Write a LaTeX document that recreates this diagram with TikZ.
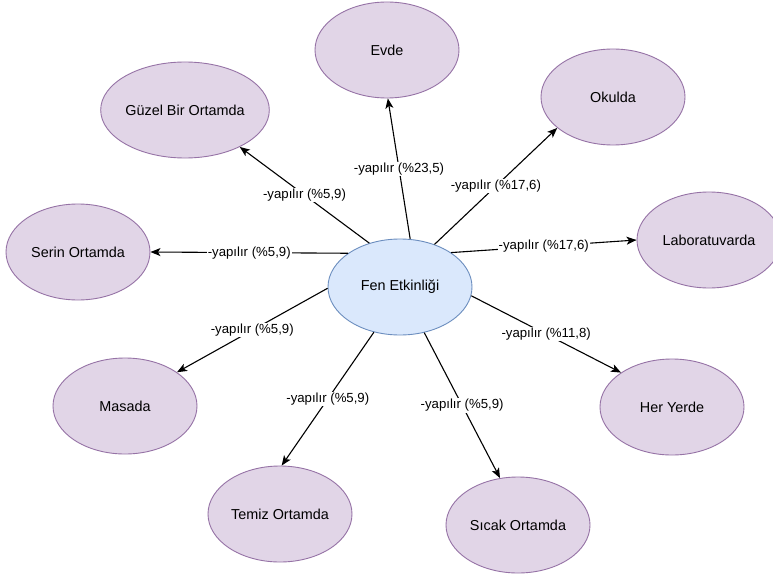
\documentclass[tikz,border=0pt]{standalone}
\usepackage{fontspec}
\setmainfont{Liberation Sans}
\usetikzlibrary{arrows.meta,shapes.geometric}
\definecolor{purfill}{HTML}{E1D5E7}
\definecolor{purdraw}{HTML}{9673A6}
\definecolor{bluefill}{HTML}{DAE8FC}
\definecolor{bluedraw}{HTML}{6C8EBF}
\tikzset{
  place/.style={ellipse, draw=purdraw, fill=purfill, line width=0.9pt,
    minimum width=144pt, minimum height=96pt, inner sep=0pt,
    font=\fontsize{14.4}{16}\selectfont},
  hub/.style={place, draw=bluedraw, fill=bluefill},
  conn/.style={line width=1.1pt, -{Stealth[length=10pt,width=8pt,inset=2.5pt]}},
  lbl/.style={fill=white, inner sep=1pt, font=\fontsize{13.2}{15}\selectfont, pos=0.5}
}
\begin{document}
\begin{tikzpicture}[x=1pt,y=-1pt]
\useasboundingbox (0,0) rectangle (773,575);
\fill[white] (0,0) rectangle (773,575);
\node[hub]   (fen)    at (400,287) {Fen Etkinliği};
\node[place] (evde)   at (387,50)  {Evde};
\node[place] (okulda) at (613,97)  {Okulda};
\node[place] (guzel)  at (185,110) {Güzel Bir Ortamda};
\node[place] (serin)  at (78,252)  {Serin Ortamda};
\node[place] (lab)    at (709,240) {Laboratuvarda};
\node[place] (masada) at (125,406) {Masada};
\node[place] (her)    at (672,407) {Her Yerde};
\node[place] (temiz)  at (280,514) {Temiz Ortamda};
\node[place] (sicak)  at (518,525) {Sıcak Ortamda};
\draw[conn] (fen.78)   -- node[lbl] {-yapılır (\%23,5)} (evde.-89);
\draw[conn] (fen.51)   -- node[lbl] {-yapılır (\%17,6)} (okulda.209);
\draw[conn] (fen.34)   -- node[lbl] {-yapılır (\%17,6)} (lab.180);
\draw[conn] (fen.-7)   -- node[lbl] {-yapılır (\%11,8)} (her.146);
\draw[conn] (fen.-62)  -- node[lbl] {-yapılır (\%5,9)} (sicak.111);
\draw[conn] (fen.240)  -- node[lbl] {-yapılır (\%5,9)} (temiz.88);
\draw[conn] (fen.181)  -- node[lbl] {-yapılır (\%5,9)} (masada.33);
\draw[conn] (fen.147)  -- node[lbl] {-yapılır (\%5,9)} (serin.0);
\draw[conn] (fen.125)  -- node[lbl] {-yapılır (\%5,9)} (guzel.-34);
\end{tikzpicture}
\end{document}
